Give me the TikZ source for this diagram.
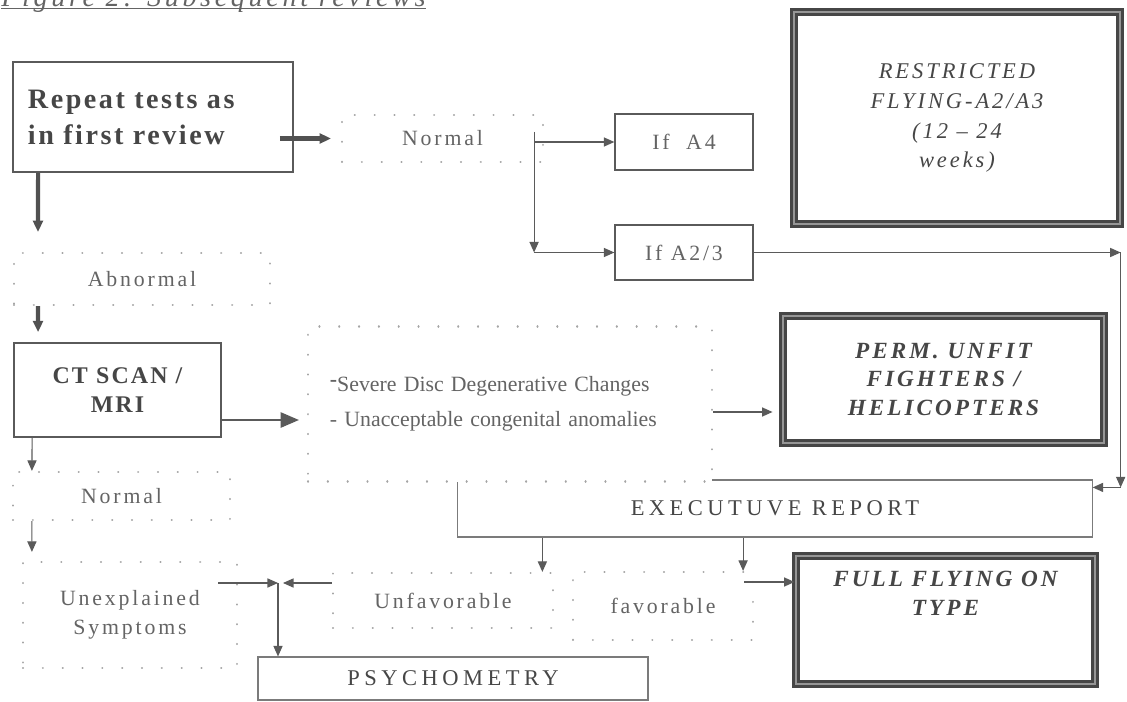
\documentclass[tikz,border=0pt]{standalone}
\usepackage{fontspec}
\setmainfont{Liberation Serif}
\newfontfamily\airyfont[LetterSpace=13]{Liberation Serif}
\newfontfamily\headfont[LetterSpace=9]{Liberation Serif}
\newfontfamily\verdictfont[LetterSpace=13]{Liberation Serif}
\newfontfamily\reportfont[LetterSpace=20]{Liberation Serif}
\usepackage{tikz}
\usetikzlibrary{arrows.meta, positioning}
\definecolor{inkgray}{RGB}{90,90,90}
\definecolor{textgray}{RGB}{70,70,70}
\definecolor{softgray}{RGB}{100,100,100}
\definecolor{dotgray}{RGB}{165,165,165}
\definecolor{framegray}{RGB}{70,70,70}
\definecolor{bandgray}{RGB}{150,150,150}

\begin{document}
\begin{tikzpicture}[x=0.025cm, y=-0.025cm,
  solidbox/.style={rectangle, draw=inkgray, line width=1.2pt, fill=white},
  gatebox/.style={rectangle, draw=inkgray, line width=0.9pt, fill=white, text=softgray,
                  font=\airyfont\fontsize{15.5}{18}\selectfont},
  thinbox/.style={rectangle, draw=inkgray!80, line width=0.8pt, fill=white, text=textgray,
                  font=\reportfont\fontsize{16}{19}\selectfont},
  dotbox/.style={rectangle, draw=dotgray, line width=1.5pt, line cap=round, dash pattern=on 0.1pt off 14pt,
                 fill=white, text=softgray, font=\airyfont\fontsize{15.5}{21}\selectfont},
  verdict/.style={rectangle, draw=framegray, line width=2pt, double=bandgray, double distance=1.6pt,
                  fill=white, text=textgray, align=center},
  arrow/.style={-{Triangle[length=7.5pt,width=6.5pt]}, line width=0.8pt, inkgray},
  heavyarrow/.style={-{Triangle[length=8pt,width=7pt]}, line width=3pt, inkgray!90!black},
  bigarrow/.style={-{Triangle[length=13pt,width=11pt]}, line width=0.8pt, inkgray}
]
\useasboundingbox (0,0) rectangle (1127,702);
\clip (0,0) rectangle (1127,702);

\node[anchor=base west, inner sep=0pt, text=softgray, font=\verdictfont\fontsize{20}{22}\selectfont\itshape] (title) at (1,6.5) {Figure 2: Subsequent reviews};
\draw[softgray, line width=1pt] ([yshift=-1.6pt]title.base west) -- ([yshift=-1.6pt]title.base east);

\node[solidbox, minimum width=7cm, minimum height=2.75cm, text width=6.25cm, inner xsep=0.375cm, align=left,
      text=textgray, font=\headfont\fontsize{20}{25.6}\selectfont\bfseries] (repeat) at (153,117) {Repeat tests as\\in first review};
\node[dotbox, minimum width=5.025cm, minimum height=1.175cm] (normal) at (442.5,138.5) {Normal};
\node[gatebox, minimum width=3.45cm, minimum height=1.4cm] (ifa) at (684,142) {If\ \ A4};
\node[gatebox, minimum width=3.45cm, minimum height=1.375cm] (ifb) at (684,252.5) {If A2/3};
\node[verdict, minimum width=8.15cm, minimum height=5.3cm, font=\verdictfont\fontsize{16}{21.3}\selectfont\itshape] (restricted) at (957,118) {RESTRICTED\\FLYING-A2/A3\\(12 – 24\\weeks)};
\node[dotbox, minimum width=6.4cm, minimum height=1.3cm] (abnormal) at (142,279) {Abnormal};
\node[solidbox, minimum width=5.175cm, minimum height=2.35cm, align=center,
      text=textgray, font=\headfont\fontsize{17}{20.6}\selectfont\bfseries] (ctscan) at (117.5,390) {CT SCAN /\\MRI};
\node[thinbox, minimum width=15.85cm, minimum height=1.425cm] (exec) at (775,508.5) {EXECUTUVE REPORT};
\node[dotbox, minimum width=10.1cm, minimum height=3.875cm, text width=9cm, inner xsep=0.55cm, align=left,
      text=softgray, font=\fontsize{15.5}{25}\selectfont] (severe) at (510,404) {\raisebox{0.5ex}{\textbf{-}}Severe Disc Degenerative Changes\\- Unacceptable congenital anomalies};
\node[verdict, minimum width=8.025cm, minimum height=3.175cm, font=\verdictfont\fontsize{16.5}{20}\selectfont\bfseries\itshape] (perm) at (943.5,379.5) {PERM. UNFIT\\FIGHTERS /\\HELICOPTERS};
\node[dotbox, minimum width=5.425cm, minimum height=1.2cm] (clear) at (121.5,496) {Normal};
\node[dotbox, minimum width=5.35cm, minimum height=2.65cm, align=center] (unexpl) at (130,615) {Unexplained\\Symptoms};
\node[dotbox, minimum width=5.5cm, minimum height=1.375cm] (unfav) at (443,600.5) {Unfavorable};
\node[dotbox, minimum width=4.5cm, minimum height=1.7cm] (fav) at (663,606) {favorable};
\node[verdict, minimum width=7.475cm, minimum height=3.2cm] (full) at (945.5,620) {};
\node[below=0.3cm of full.north, align=center, text=textgray,
      font=\verdictfont\fontsize{16.5}{20}\selectfont\bfseries\itshape] (fulltext) {FULL FLYING ON\\TYPE};
\node[thinbox, minimum width=9.75cm, minimum height=1.075cm] (psycho) at (453,678.5) {PSYCHOMETRY};

\coordinate (split) at ([xshift=-0.25cm, yshift=-0.45cm]normal.north east);
\coordinate (bend) at ([xshift=0.7cm]exec.east |- ifb.east);
\coordinate (execin) at ([yshift=-0.2cm]exec.north east);
\coordinate (ctout) at ([yshift=-0.75cm]ctscan.east);
\coordinate (meet) at (278,583);

\draw[heavyarrow, shorten >=0.25cm] ([xshift=-0.35cm]repeat.east |- normal.west) -- (normal.west);
\draw[heavyarrow, shorten >=0.5cm] ([xshift=0.65cm]repeat.south west) -- ([xshift=0.625cm]abnormal.north west);
\draw[heavyarrow, shorten >=0.25cm] ([xshift=0.625cm]abnormal.south west) -- ([xshift=0.625cm]ctscan.north west);
\draw[arrow] (split) -- (split |- ifb.west);
\draw[arrow] (split |- ifa.west) -- (ifa.west);
\draw[arrow] (split |- ifb.west) -- (ifb.west);
\draw[arrow] (ifb.east) -- (bend);
\draw[arrow] (bend) -- (bend |- execin);
\draw[arrow] (bend |- execin) -- (execin);
\draw[bigarrow, shorten >=0.2cm] (ctout) -- (ctout -| severe.west);
\draw[arrow, shorten >=0.225cm] ([yshift=-0.2cm]severe.east) -- ([yshift=-0.2cm]severe.east -| perm.west);
\draw[arrow] ([xshift=0.475cm]ctscan.south west) -- ([xshift=0.5cm]clear.north west);
\draw[arrow, shorten >=0.225cm] ([xshift=0.5cm]clear.south west) -- ([xshift=0.25cm]unexpl.north west);
\draw[arrow] ([xshift=-0.5cm]unexpl.east |- meet) -- (meet);
\draw[arrow] (unfav.west |- meet) -- ([xshift=0.125cm]meet);
\draw[arrow] (meet) -- (meet |- psycho.north);
\draw[arrow] ([xshift=2.125cm]exec.south west) -- ([xshift=2.125cm]exec.south west |- unfav.north);
\draw[arrow] ([xshift=-0.275cm]fav.north east |- exec.south) -- ([xshift=-0.275cm]fav.north east);
\draw[arrow] ([xshift=-0.25cm, yshift=0.6cm]fav.east) -- ([yshift=0.6cm]fav.east -| full.west);
\end{tikzpicture}
\end{document}
